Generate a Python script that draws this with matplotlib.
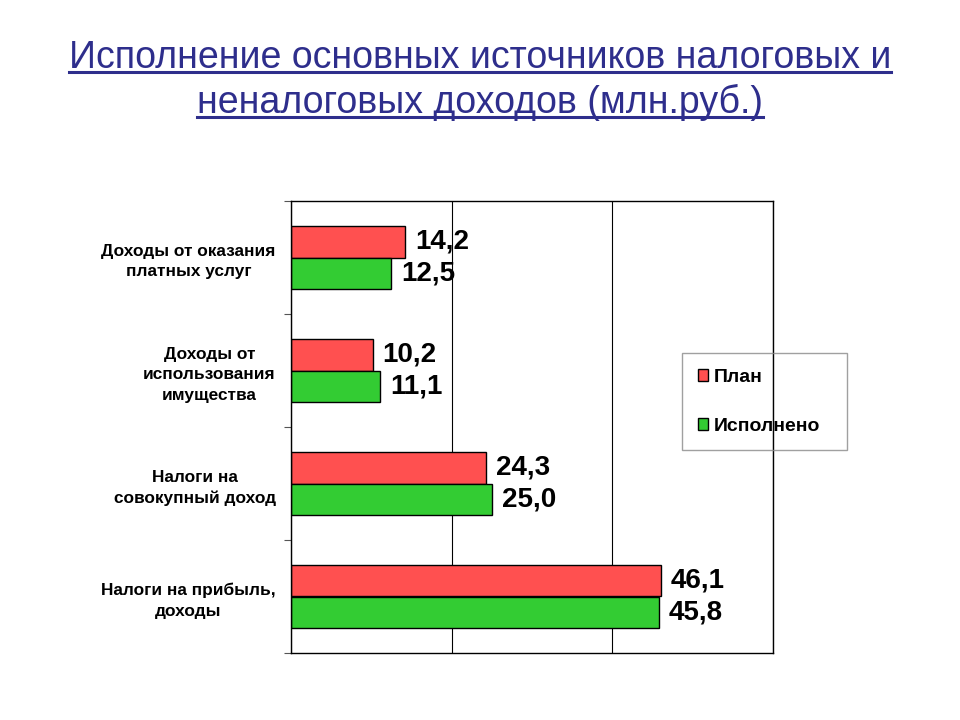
import matplotlib
matplotlib.use("Agg")
import matplotlib.pyplot as plt
from matplotlib.lines import Line2D
from matplotlib.patches import Patch
import numpy as np

categories = ["Доходы от оказания\nплатных услуг",
              "Доходы от\nиспользования\nимущества",
              "Налоги на\nсовокупный доход",
              "Налоги на прибыль,\nдоходы"]
plan = [14.2, 10.2, 24.3, 46.1]
done = [12.5, 11.1, 25.0, 45.8]
series_names = ["План", "Исполнено"]
title_lines = ["Исполнение основных источников налоговых и",
               "неналоговых доходов (млн.руб.)"]

plt.rcParams['font.family'] = ['Liberation Sans', 'DejaVu Sans']

W, H = 960, 720
fig = plt.figure(figsize=(9.6, 7.2), dpi=100)
ax = fig.add_axes([291/W, 1-653/H, (773-291)/W, (653-201)/H])

red = "#FF5050"
green = "#33CC33"
y = np.arange(len(categories))
bh = 0.28
ax.barh(y - bh/2, plan, height=bh, color=red, edgecolor="black", linewidth=1)
ax.barh(y + bh/2, done, height=bh, color=green, edgecolor="black", linewidth=1)

for yi, v in zip(y - bh/2, plan):
    ax.annotate(f"{v:.1f}".replace(".", ","), (v, yi), xytext=(7, 0), textcoords="offset points",
                va="center", ha="left", fontsize=20, fontweight="bold")
for yi, v in zip(y + bh/2, done):
    ax.annotate(f"{v:.1f}".replace(".", ","), (v, yi), xytext=(7, 0), textcoords="offset points",
                va="center", ha="left", fontsize=20, fontweight="bold")

ax.set_xlim(0, 60)
ax.set_ylim(len(categories) - 0.5, -0.5)
ax.set_xticks([0, 20, 40, 60])
ax.set_xticklabels([])
ax.tick_params(axis="x", length=0)
ax.grid(axis="x", color="black", linewidth=0.8)
ax.set_axisbelow(True)

ax.set_yticks(np.arange(-0.5, len(categories)), minor=False)
ax.set_yticklabels([])
ax.tick_params(axis="y", which="major", length=5, direction="out", color="#555555")
ax.set_yticks(y, minor=True)
ax.set_yticklabels(categories, minor=True, fontsize=12.4, fontweight="bold",
                   multialignment="center", linespacing=1.45)
ax.tick_params(axis="y", which="minor", length=0, pad=11)
for s in ax.spines.values():
    s.set_color("black")
    s.set_linewidth(1)

handles = [Patch(facecolor=red, edgecolor="black", label=series_names[0]),
           Patch(facecolor=green, edgecolor="black", label=series_names[1])]
leg = fig.legend(handles=handles, loc="upper left", mode="expand",
                 bbox_to_anchor=(682/W, 1-449/H, 165/W, 96/H), bbox_transform=fig.transFigure,
                 frameon=True, fancybox=False, edgecolor="#888888", facecolor="none",
                 prop={"size": 14, "weight": "bold"}, handlelength=0.55, handleheight=0.55,
                 handletextpad=0.3, labelspacing=1.65, borderpad=0.8, borderaxespad=0)
leg.get_frame().set_linewidth(1)

title_color = "#2E2E8C"
fig.canvas.draw()
renderer = fig.canvas.get_renderer()
baselines = [68, 113]
for line, by in zip(title_lines, baselines):
    t = fig.text(0.5, 1 - by/H, line, ha="center", va="baseline", fontsize=27,
                 color=title_color)
    bb = t.get_window_extent(renderer=renderer)
    uy = 1 - (by + 4)/H
    fig.add_artist(Line2D([bb.x0/W, bb.x1/W], [uy, uy], color=title_color, linewidth=2.2,
                          transform=fig.transFigure))

fig.savefig("out.png", dpi=100)
